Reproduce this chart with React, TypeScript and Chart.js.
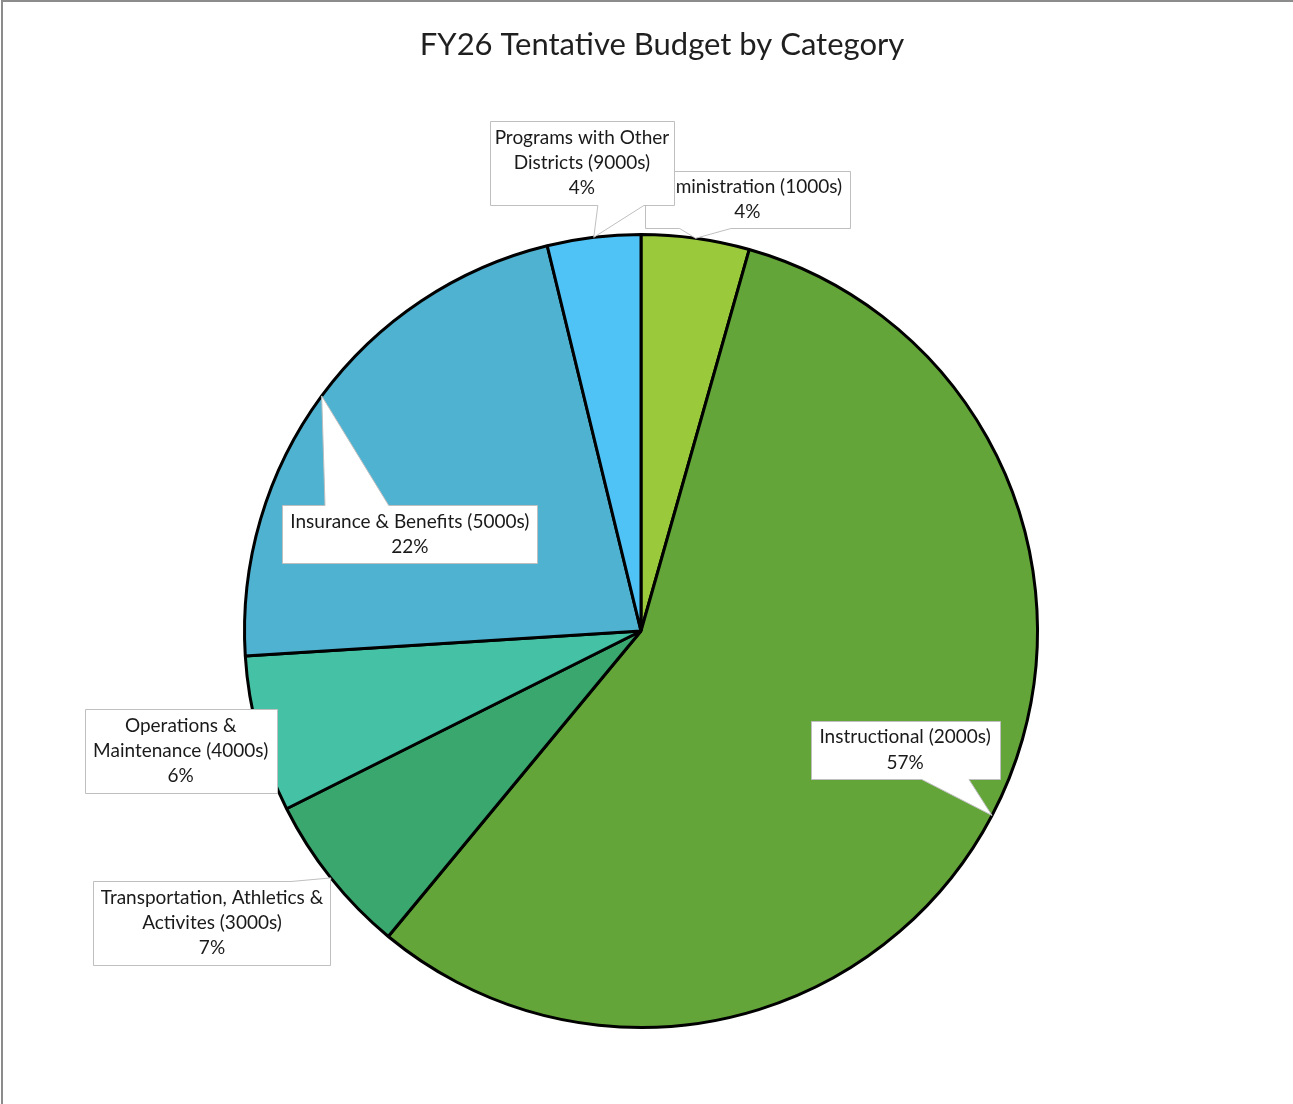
import React, { useEffect, useRef } from "react";
import { Chart, registerables } from "chart.js";

Chart.register(...registerables);

const chartTitle = "FY26 Tentative Budget by Category";

const categories = [
  "Administration (1000s)",
  "Instructional (2000s)",
  "Transportation, Athletics & Activites (3000s)",
  "Operations & Maintenance (4000s)",
  "Insurance & Benefits (5000s)",
  "Programs with Other Districts (9000s)",
];

const labelLines = [
  ["Administration (1000s)"],
  ["Instructional (2000s)"],
  ["Transportation, Athletics &", "Activites (3000s)"],
  ["Operations &", "Maintenance (4000s)"],
  ["Insurance & Benefits (5000s)"],
  ["Programs with Other", "Districts (9000s)"],
];

const shares = [4.4, 56.6, 6.6, 6.4, 22.2, 3.8];

const sliceColors = ["#9ACA3C", "#64A539", "#3AA76E", "#45C2A5", "#4FB2D0", "#4FC3F6"];

// callout box placement: centre offset from pie centre (in radii) and box size (px)
const calloutBoxes = [
  { dx: 0.268, dy: -1.089, w: 205, h: 57 },
  { dx: 0.666, dy: 0.3, w: 189, h: 58 },
  { dx: -1.082, dy: 0.736, w: 237, h: 84 },
  { dx: -1.161, dy: 0.302, w: 192, h: 84 },
  { dx: -0.583, dy: -0.244, w: 255, h: 58 },
  { dx: -0.149, dy: -1.181, w: 184, h: 84 },
];

const FONT = "Lato, 'Noto Sans', sans-serif";

const calloutPlugin = {
  id: "callouts",
  afterDraw(chart: any) {
    const ctx: CanvasRenderingContext2D = chart.ctx;
    const meta = chart.getDatasetMeta(0);
    const data: number[] = chart.data.datasets[0].data;
    const total = data.reduce((a, b) => a + b, 0);

    meta.data.forEach((arc: any, i: number) => {
      const p = arc.getProps(["x", "y", "startAngle", "endAngle", "outerRadius"], true);
      const R = p.outerRadius;
      const mid = (p.startAngle + p.endAngle) / 2;
      const tx = p.x + Math.cos(mid) * R;
      const ty = p.y + Math.sin(mid) * R;
      const b = calloutBoxes[i];
      const cx = p.x + b.dx * R;
      const cy = p.y + b.dy * R;
      const left = Math.round(cx - b.w / 2) + 0.5;
      const right = Math.round(cx + b.w / 2) + 0.5;
      const top = Math.round(cy - b.h / 2) + 0.5;
      const bottom = Math.round(cy + b.h / 2) + 0.5;
      const w = right - left;
      const h = bottom - top;

      ctx.save();
      ctx.beginPath();
      const inside = tx >= left && tx <= right && ty >= top && ty <= bottom;
      if (inside) {
        ctx.rect(left, top, w, h);
      } else if (ty < top || ty > bottom) {
        const rightSide = tx > cx;
        let f1 = rightSide ? 7 / 12 : 1 / 6;
        let f2 = rightSide ? 5 / 6 : 5 / 12;
        const nearEdge = ty < top ? top - ty : ty - bottom;
        if (nearEdge < 8) {
          f1 = rightSide ? 5 / 6 : 0;
          f2 = rightSide ? 1 : 1 / 6;
        }
        const a = left + w * f1;
        const c = left + w * f2;
        if (ty < top) {
          ctx.moveTo(left, top);
          ctx.lineTo(a, top);
          ctx.lineTo(tx, ty);
          ctx.lineTo(c, top);
          ctx.lineTo(right, top);
          ctx.lineTo(right, bottom);
          ctx.lineTo(left, bottom);
        } else {
          ctx.moveTo(left, top);
          ctx.lineTo(right, top);
          ctx.lineTo(right, bottom);
          ctx.lineTo(c, bottom);
          ctx.lineTo(tx, ty);
          ctx.lineTo(a, bottom);
          ctx.lineTo(left, bottom);
        }
        ctx.closePath();
      } else {
        const lower = ty > cy;
        const a = top + h * (lower ? 7 / 12 : 1 / 6);
        const c = top + h * (lower ? 5 / 6 : 5 / 12);
        if (tx < left) {
          ctx.moveTo(left, top);
          ctx.lineTo(right, top);
          ctx.lineTo(right, bottom);
          ctx.lineTo(left, bottom);
          ctx.lineTo(left, c);
          ctx.lineTo(tx, ty);
          ctx.lineTo(left, a);
        } else {
          ctx.moveTo(left, top);
          ctx.lineTo(right, top);
          ctx.lineTo(right, a);
          ctx.lineTo(tx, ty);
          ctx.lineTo(right, c);
          ctx.lineTo(right, bottom);
          ctx.lineTo(left, bottom);
        }
        ctx.closePath();
      }
      ctx.fillStyle = "#FFFFFF";
      ctx.fill();
      ctx.strokeStyle = "#BFBFBF";
      ctx.lineWidth = 1;
      ctx.stroke();

      const lines = [...labelLines[i], Math.round((data[i] / total) * 100) + "%"];
      const lh = 25.3;
      ctx.fillStyle = "#1A1A1A";
      ctx.font = "19px " + FONT;
      ctx.textAlign = "center";
      ctx.textBaseline = "middle";
      const startY = cy - ((lines.length - 1) * lh) / 2;
      lines.forEach((ln, k) => ctx.fillText(ln, cx, startY + k * lh));
      ctx.restore();
    });

    // title
    ctx.save();
    ctx.fillStyle = "#1F1F1F";
    ctx.font = "31px " + FONT;
    ctx.textAlign = "center";
    ctx.textBaseline = "middle";
    ctx.fillText(chartTitle, 662, 45);
    // frame
    ctx.strokeStyle = "#8C8C8C";
    ctx.lineWidth = 2;
    ctx.beginPath();
    ctx.moveTo(2, 1104);
    ctx.lineTo(2, 1);
    ctx.lineTo(1293, 1);
    ctx.stroke();
    ctx.restore();
  },
};

export default function App() {
  const ref = useRef<HTMLCanvasElement | null>(null);
  useEffect(() => {
    if (!ref.current) return;
    const chart = new Chart(ref.current, {
      type: "pie",
      data: {
        labels: categories,
        datasets: [
          {
            data: shares,
            backgroundColor: sliceColors,
            borderColor: "#000000",
            borderWidth: 3,
          },
        ],
      },
      options: {
        responsive: false,
        animation: false,
        devicePixelRatio: 1,
        layout: { padding: { left: 243, right: 254, top: 233, bottom: 75 } },
        plugins: {
          legend: { display: false },
          tooltip: { enabled: false },
          title: { display: false },
        },
      },
      plugins: [calloutPlugin],
    });
    return () => chart.destroy();
  }, []);
  return (
    <div style={{ position: "absolute", left: 0, top: 0, width: 1293, height: 1104, background: "#fff" }}>
      <canvas ref={ref} width={1293} height={1104} style={{ display: "block" }} />
    </div>
  );
}
